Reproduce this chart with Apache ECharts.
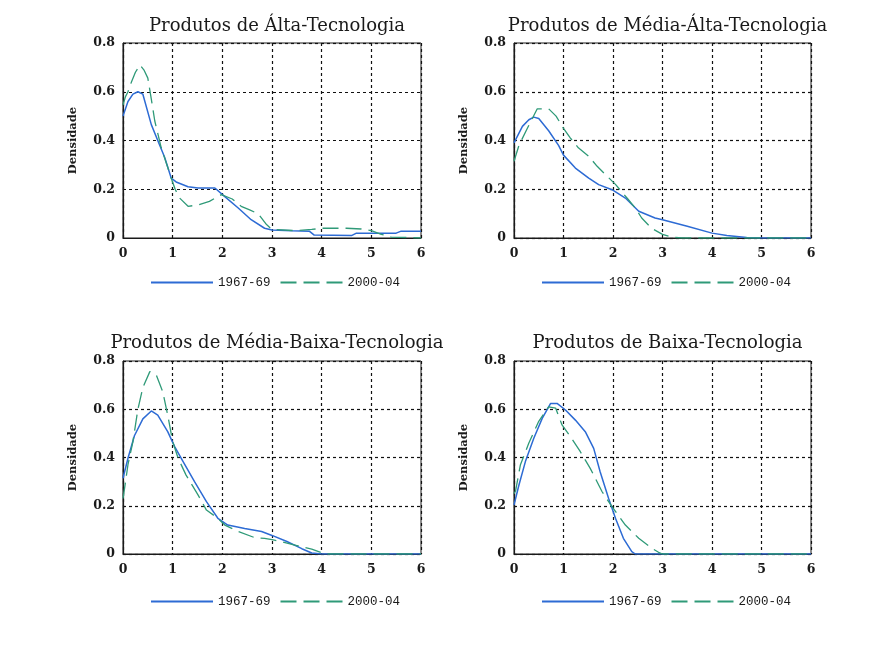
<!DOCTYPE html>
<html>
<head>
<meta charset="utf-8">
<script src="https://cdn.jsdelivr.net/npm/echarts@6/dist/echarts.min.js"></script>
<style>
html,body{margin:0;padding:0;background:#ffffff;}
#chart{width:880px;height:648px;}
</style>
</head>
<body>
<div id="chart"></div>
<script>
// ---- data ----
var titles = ["Produtos de Álta-Tecnologia", "Produtos de Média-Álta-Tecnologia",
              "Produtos de Média-Baixa-Tecnologia", "Produtos de Baixa-Tecnologia"];
var seriesNames = ["1967-69", "2000-04"];
var xTicks = [0, 1, 2, 3, 4, 5, 6];
var yTicks = [0, 0.2, 0.4, 0.6, 0.8];
var yAxisName = "Densidade";

var alta67_x = [0,0.1,0.2,0.3,0.4,0.57,0.7,0.84,0.97,1.07,1.31,1.51,1.85,2.05,2.32,2.58,2.85,3.0,3.4,3.75,3.85,4.6,4.7,5.5,5.6,6.0];
var alta67_y = [0.50,0.56,0.59,0.60,0.59,0.465,0.40,0.33,0.246,0.23,0.21,0.205,0.205,0.17,0.123,0.075,0.04,0.033,0.03,0.028,0.012,0.01,0.02,0.02,0.028,0.028];
var alta00_x = [0,0.05,0.1,0.17,0.25,0.34,0.42,0.5,0.57,0.64,0.77,0.9,0.97,1.05,1.14,1.31,1.5,1.74,1.98,2.2,2.38,2.55,2.72,2.89,3.0,3.5,3.8,4.0,4.5,4.8,5.0,5.2,5.4,6.0];
var alta00_y = [0.545,0.58,0.60,0.64,0.68,0.71,0.69,0.656,0.57,0.48,0.37,0.29,0.246,0.2,0.164,0.13,0.135,0.15,0.178,0.16,0.13,0.115,0.10,0.055,0.035,0.03,0.035,0.04,0.04,0.037,0.03,0.015,0.004,0.0];

var medAlta67_x = [0,0.17,0.3,0.4,0.5,0.7,0.9,1.0,1.24,1.51,1.71,1.98,2.25,2.52,2.85,3.0,3.5,4.0,4.3,4.7,5.0,6.0];
var medAlta67_y = [0.39,0.458,0.485,0.496,0.49,0.44,0.38,0.34,0.287,0.246,0.219,0.198,0.164,0.11,0.082,0.075,0.048,0.02,0.01,0.002,0,0];
var medAlta00_x = [0,0.1,0.27,0.47,0.7,0.85,1.0,1.14,1.3,1.51,1.68,2.05,2.3,2.45,2.58,2.78,3.0,3.2,3.4,6.0];
var medAlta00_y = [0.315,0.38,0.45,0.53,0.53,0.50,0.45,0.41,0.37,0.335,0.294,0.22,0.16,0.123,0.082,0.04,0.015,0.003,0,0];

var medBaixa67_x = [0,0.1,0.23,0.4,0.57,0.7,0.9,1.04,1.21,1.44,1.68,1.91,2.11,2.45,2.79,3.0,3.3,3.6,3.8,4.0,6.0];
var medBaixa67_y = [0.314,0.397,0.49,0.56,0.593,0.576,0.507,0.445,0.383,0.30,0.217,0.148,0.12,0.106,0.093,0.077,0.052,0.022,0.004,0,0];
var medBaixa00_x = [0,0.03,0.1,0.2,0.3,0.4,0.54,0.67,0.8,0.9,1.0,1.11,1.27,1.51,1.68,1.91,2.05,2.32,2.65,2.85,3.0,3.2,3.5,3.8,4.0,4.1,6.0];
var medBaixa00_y = [0.23,0.27,0.37,0.466,0.60,0.69,0.756,0.742,0.673,0.576,0.466,0.397,0.327,0.245,0.182,0.148,0.12,0.093,0.068,0.065,0.06,0.05,0.035,0.02,0.005,0,0];

var baixa67_x = [0,0.1,0.23,0.4,0.57,0.74,0.87,1.04,1.24,1.44,1.61,1.74,1.91,2.05,2.21,2.38,2.45,6.0];
var baixa67_y = [0.203,0.286,0.383,0.48,0.562,0.624,0.624,0.597,0.555,0.507,0.438,0.341,0.231,0.148,0.065,0.01,0,0];
var baixa00_x = [0,0.03,0.13,0.3,0.5,0.7,0.84,0.97,1.14,1.34,1.54,1.78,1.98,2.25,2.52,2.79,2.92,3.0,6.0];
var baixa00_y = [0.25,0.26,0.37,0.46,0.55,0.61,0.605,0.535,0.486,0.424,0.355,0.258,0.196,0.12,0.065,0.023,0.007,0,0];

var panels67 = [[alta67_x, alta67_y], [medAlta67_x, medAlta67_y], [medBaixa67_x, medBaixa67_y], [baixa67_x, baixa67_y]];
var panels00 = [[alta00_x, alta00_y], [medAlta00_x, medAlta00_y], [medBaixa00_x, medBaixa00_y], [baixa00_x, baixa00_y]];

// ---- layout ----
var grids = [
  {left: 123, top: 43, width: 298, height: 195},
  {left: 514, top: 43, width: 297, height: 195},
  {left: 123, top: 361, width: 298, height: 193},
  {left: 514, top: 361, width: 297, height: 193}
];
var titleTops = [12, 12, 329, 329];
var legendTops = [271, 271, 590, 590];
var legendLefts = [145, 536, 145, 536];

var BLUE = '#2d6bd4', GREEN = '#2f9a78';
var SERIF = '"DejaVu Serif", "Liberation Serif", serif';

function zip(xs, ys) { var o = []; for (var i = 0; i < xs.length; i++) o.push([xs[i], ys[i]]); return o; }

var option = {
  backgroundColor: '#ffffff',
  animation: false,
  title: [], legend: [], grid: [], xAxis: [], yAxis: [], series: []
};

for (var p = 0; p < 4; p++) {
  var g = grids[p];
  option.grid.push({left: g.left, top: g.top, width: g.width, height: g.height,
    show: true, borderColor: '#1a1a1a', borderWidth: 1, backgroundColor: '#ffffff'});
  option.title.push({
    text: titles[p], left: g.left + g.width / 2, top: titleTops[p], textAlign: 'center',
    textStyle: {fontFamily: SERIF, fontSize: 18, fontWeight: 'normal', color: '#1a1a1a'}
  });
  option.legend.push({
    data: seriesNames.slice(), left: legendLefts[p], top: legendTops[p],
    itemWidth: 62, itemHeight: 14, itemGap: 9,
    itemStyle: {opacity: 0},
    textStyle: {fontFamily: '"Liberation Mono", monospace', fontSize: 12.5, color: '#1a1a1a'},
    selectedMode: false
  });
  option.xAxis.push({
    type: 'value', gridIndex: p, min: xTicks[0], max: xTicks[xTicks.length - 1], interval: 1,
    axisLine: {show: true, onZero: false, lineStyle: {color: '#1a1a1a', width: 1.2}},
    axisTick: {show: false},
    axisLabel: {margin: 9, fontFamily: SERIF, fontSize: 12.5, fontWeight: 'bold', color: '#1a1a1a'},
    splitLine: {show: true, lineStyle: {color: '#111111', type: [3, 3], width: 1.2}}
  });
  option.yAxis.push({
    type: 'value', gridIndex: p, min: yTicks[0], max: yTicks[yTicks.length - 1], interval: 0.2,
    name: yAxisName, nameLocation: 'middle', nameRotate: 90, nameGap: 44,
    nameTextStyle: {fontFamily: SERIF, fontSize: 11.5, fontWeight: 'bold', color: '#1a1a1a'},
    axisLine: {show: true, lineStyle: {color: '#1a1a1a', width: 1.2}},
    axisTick: {show: false},
    axisLabel: {margin: 8, fontFamily: SERIF, fontSize: 12.5, fontWeight: 'bold', color: '#1a1a1a',
      formatter: function (v) { return v === 0 ? '0' : v.toFixed(1); }},
    splitLine: {show: true, lineStyle: {color: '#111111', type: [3, 3], width: 1.2}}
  });
  option.series.push({
    name: seriesNames[0], type: 'line', xAxisIndex: p, yAxisIndex: p,
    data: zip(panels67[p][0], panels67[p][1]), symbol: 'none', showSymbol: false,
    lineStyle: {color: BLUE, width: 1.5}, itemStyle: {color: BLUE}, z: 3
  });
  option.series.push({
    name: seriesNames[1], type: 'line', xAxisIndex: p, yAxisIndex: p,
    data: zip(panels00[p][0], panels00[p][1]), symbol: 'none', showSymbol: false,
    lineStyle: {color: GREEN, width: 1.3, type: [16, 7]}, itemStyle: {color: GREEN}, z: 4
  });
}

var chart = echarts.init(document.getElementById('chart'), null, {renderer: 'canvas'});
chart.setOption(option);
</script>
</body>
</html>
